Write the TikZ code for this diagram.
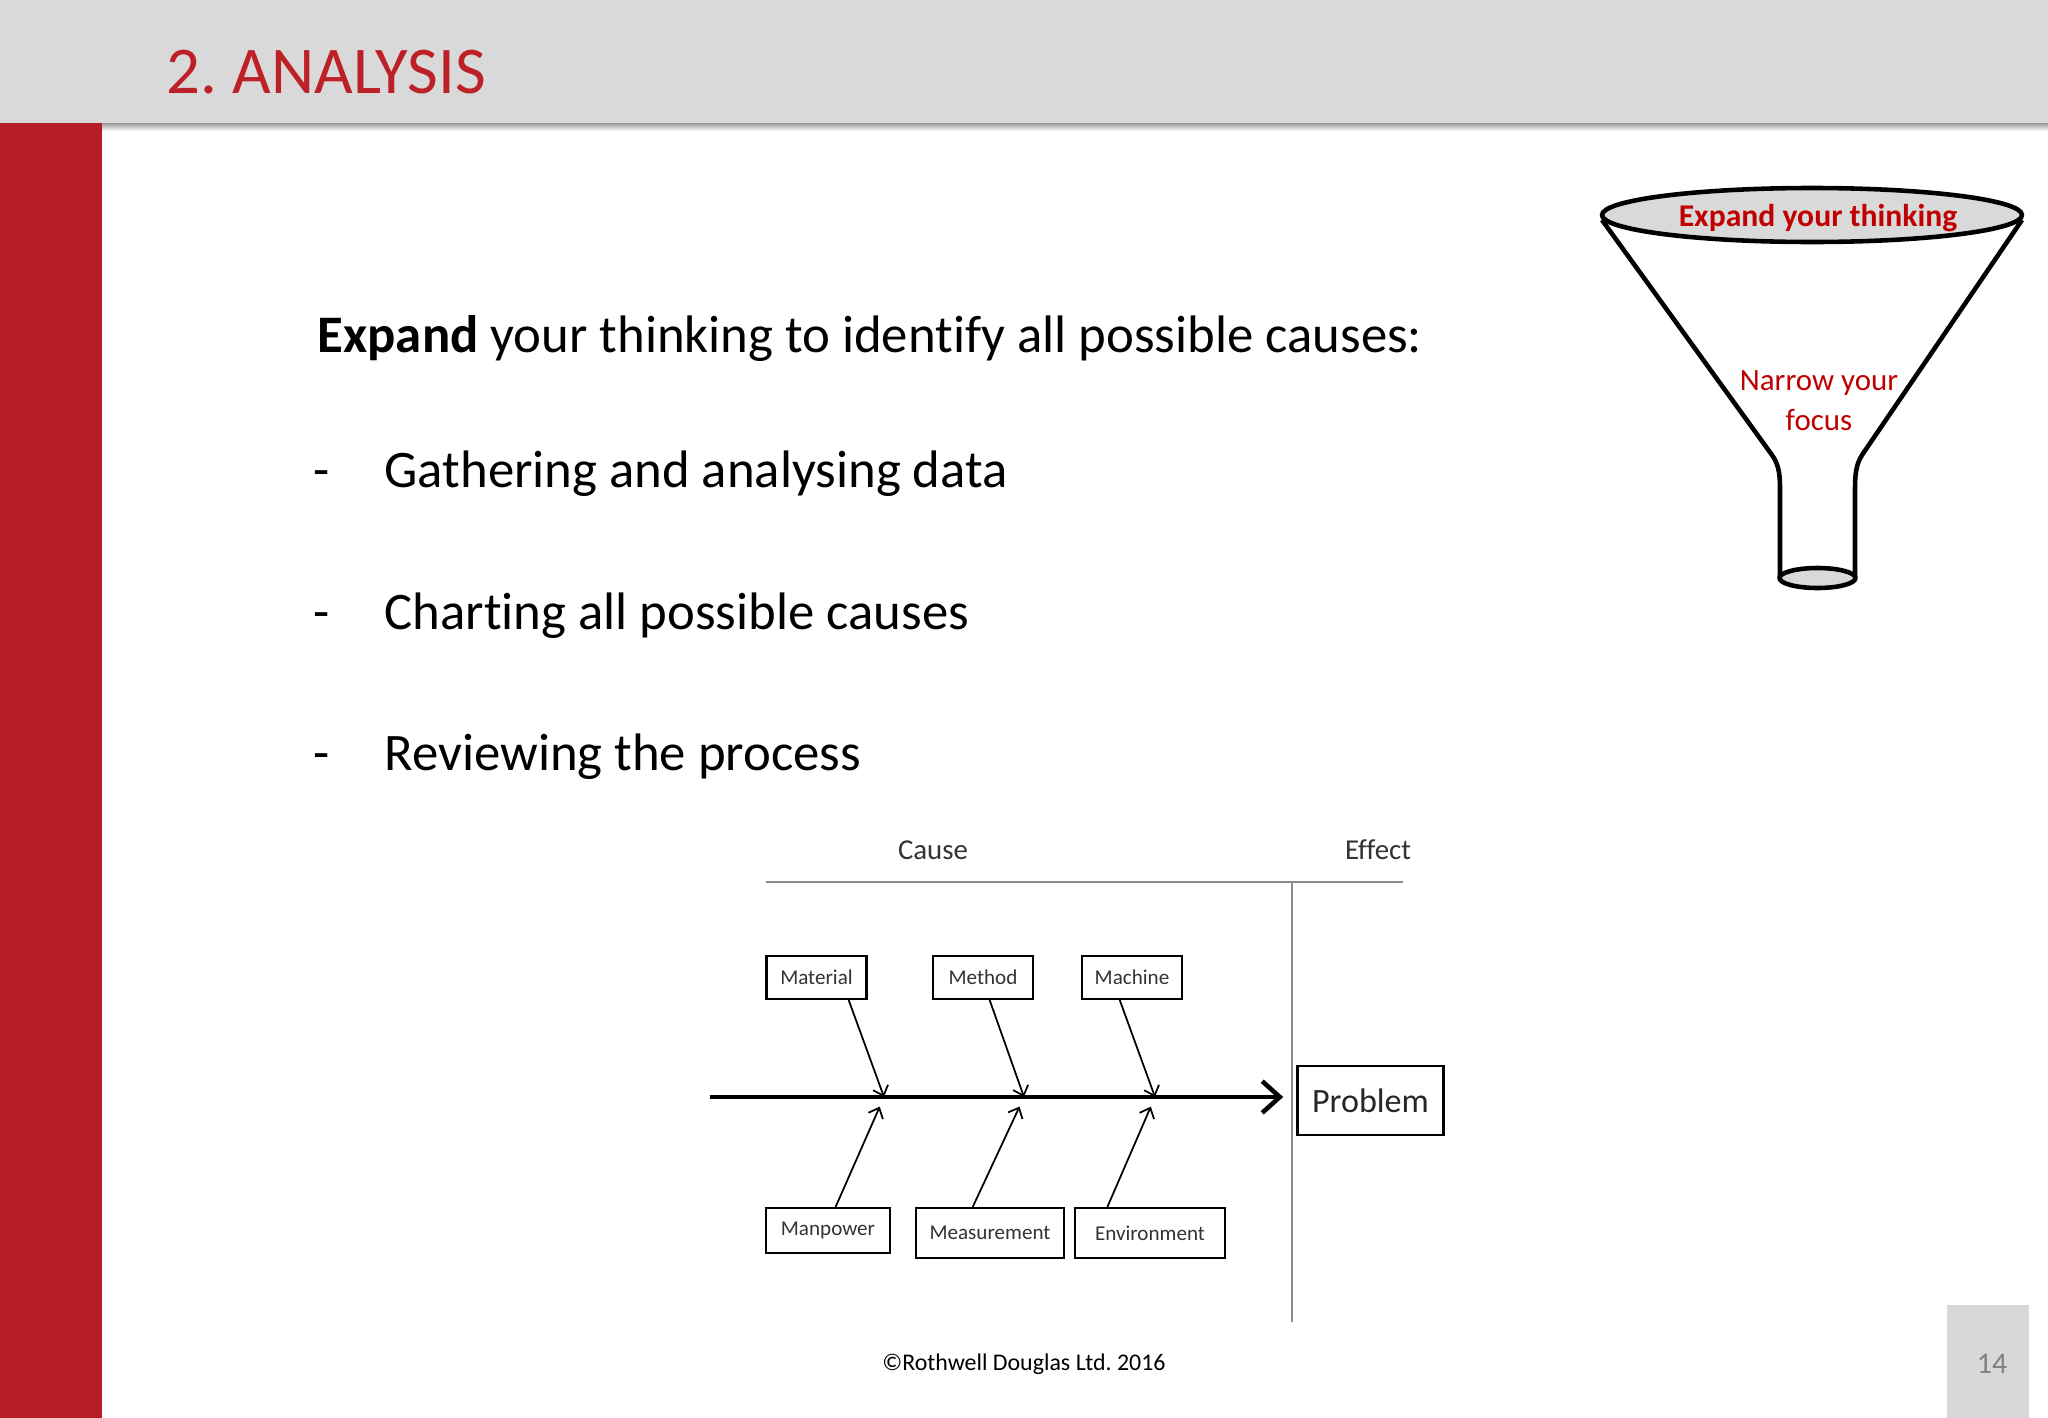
\documentclass[tikz,border=0pt]{standalone}
\usepackage{fontspec}
\setmainfont[Ligatures=NoCommon]{Carlito}
\usetikzlibrary{calc}
\usetikzlibrary{arrows.meta}
\usetikzlibrary{positioning}
\definecolor{slidered}{RGB}{183,29,36}
\definecolor{titlered}{RGB}{190,32,40}
\definecolor{funnelred}{RGB}{192,0,0}
\definecolor{bandgray}{RGB}{217,217,217}
\definecolor{pagegray}{RGB}{216,216,219}
\definecolor{rulegray}{RGB}{140,140,140}

\begin{document}
\begin{tikzpicture}[x=0.01cm, y=-0.01cm,
  cbox/.style={rectangle, draw=black, line width=0.6pt, fill=white, inner sep=0pt,
    minimum height=0.43cm, font=\fontsize{6}{7}\selectfont, text=black!80},
  branch/.style={-{Straight Barb[length=2.5pt, width=4.5pt]}, line width=0.5pt},
  spine/.style={-{Straight Barb[length=5pt, width=9pt]}, line width=1.3pt},
  slidetext/.style={anchor=base west, inner sep=0pt, font=\fontsize{15}{18}\selectfont},
  funnel/.style={line width=1.3pt, line join=round}]
\useasboundingbox (0,0) rectangle (2048,1418);

% slide frame
\fill[bandgray] (0,0) rectangle (2048,123);
\shade[top color=black!40, bottom color=white] (102,123) rectangle (2048,131);
\fill[slidered] (0,123) rectangle (102,1418);
\node[anchor=base west, inner sep=0pt, font=\fontsize{19}{22}\selectfont, text=titlered] (title) at (166,93) {2.\ ANALYSIS};

% text
\node[slidetext] (intro) at (317,352) {\textbf{Expand} your thinking to identify all possible causes:};
\node[slidetext] (d1) at (313,487) {-};
\node[slidetext] (b1) at (384,487) {Gathering and analysing data};
\node[slidetext] (d2) at (313,629) {-};
\node[slidetext] (b2) at (384,629) {Charting all possible causes};
\node[slidetext] (d3) at (313,770) {-};
\node[slidetext] (b3) at (384,770) {Reviewing the process};

% funnel
\draw[funnel, fill=white] (1602,220) -- (1772,455) .. controls (1780,466) and (1780,478) .. (1780,492) -- (1780,578)
  -- (1855,578) -- (1855,492) .. controls (1855,478) and (1855,466) .. (1862,455) -- (2022,220);
\draw[funnel, fill=bandgray] (1812,215) ellipse [x radius=210, y radius=27];
\draw[funnel, fill=bandgray] (1817.5,578) ellipse [x radius=38, y radius=10];
\node[font=\fontsize{9}{11}\selectfont\bfseries, text=funnelred] (wide) at (1818,218) {Expand your thinking};
\node[font=\fontsize{8.8}{11.4}\selectfont, text=funnelred, align=center] (narrow) at (1819,401) {Narrow your\\focus};

% cause and effect
\coordinate (cl) at (766,882);
\coordinate (cr) at (1403,882);
\coordinate (vt) at (1292,882);
\coordinate (vb) at (1292,1322);
\draw[rulegray, line width=0.5pt] (cl) -- (cr);
\draw[rulegray, line width=0.5pt] (vt) -- (vb);
\node[font=\fontsize{8.2}{10}\selectfont, text=black!80] (cause) at (933,850) {Cause};
\node[font=\fontsize{8.2}{10}\selectfont, text=black!80] (effect) at (1378,850) {Effect};

\node[rectangle, draw=black, line width=0.7pt, inner sep=0pt, minimum width=1.46cm, minimum height=0.69cm,
  font=\fontsize{9.7}{12}\selectfont, text=black!85] (prob) at (1370.5,1100.5) {Problem};
\coordinate (tail) at (710,1097);
\draw[spine, shorten >=0.13cm] (tail) -- (tail -| prob.west);

\node[cbox, minimum width=1cm] (mat) at (816.5,977.5) {Material};
\node[cbox, minimum width=1cm] (meth) at (983,977.5) {Method};
\node[cbox, minimum width=1cm] (mach) at (1132,977.5) {Machine};
\node[cbox, minimum width=1.24cm, minimum height=0.45cm] (man) at (828,1230.5) {Manpower};
\node[cbox, minimum width=1.48cm, minimum height=0.50cm] (meas) at (990,1233) {Measurement};
\node[cbox, minimum width=1.50cm, minimum height=0.50cm] (env) at (1150,1233) {Environment};

\coordinate (j1) at (884,1097);
\coordinate (j2) at (1024,1097);
\coordinate (j3) at (1155,1097);
\draw[branch] ($(mat.south west)!0.815!(mat.south east)$) -- (j1);
\draw[branch] ($(meth.south west)!0.565!(meth.south east)$) -- (j2);
\draw[branch] ($(mach.south west)!0.38!(mach.south east)$) -- (j3);
\draw[branch, shorten >=3pt] ($(man.north west)!0.56!(man.north east)$) -- (j1);
\draw[branch, shorten >=3pt] ($(meas.north west)!0.385!(meas.north east)$) -- (j2);
\draw[branch, shorten >=3pt] ($(env.north west)!0.22!(env.north east)$) -- (j3);

% footer
\node[anchor=base, font=\fontsize{6.8}{8}\selectfont] (copy) at (1024,1370) {©Rothwell Douglas Ltd.\ 2016};
\fill[pagegray] (1947,1305) rectangle (2029,1418);
\node[anchor=base, font=\fontsize{8.5}{10}\selectfont, text=black!50] (page) at (1992,1373) {14};
\end{tikzpicture}
\end{document}
